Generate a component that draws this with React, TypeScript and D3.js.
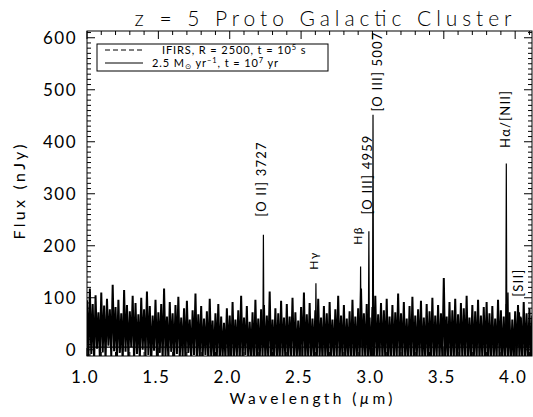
import React from "react";
import * as d3 from "d3";

const width = 533;
const height = 417;
const plot = { left: 87, right: 532, top: 31, bottom: 356 };

// noisy IFIRS spectrum, one sample every 0.01 um from 1.00 um
const noiseStart = 1.0;
const noiseStep = 0.01;
const noiseFlux = [
  95, -18, 118, -8, 88, -22, 105, 2, 72, -15, 110, -5, 85, -20, 98, 8, 78, -12, 125, -3,
  82, -16, 96, -6, 70, -24, 115, -4, 86, -14, 74, 5, 104, -20, 90, -8, 68, -18, 100, 0,
  78, -14, 112, -10, 84, -25, 66, -2, 96, -16, 72, -6, 88, -22, 118, -12, 64, -20, 92, -4,
  70, -20, 86, -8, 102, -16, 62, -12, 80, -24, 94, -6, 58, -18, 76, -10, 108, -22, 68, -14,
  84, -18, 60, -10, 74, -26, 98, -14, 56, -20, 70, -12, 88, -24, 64, -16, 52, -22, 80, -12,
  66, -24, 92, -18, 58, -12, 76, -26, 104, -20, 62, -10, 84, -22, 54, -16, 72, -28, 96, -18,
  60, -22, 78, -14, 86, -24, 66, -18, 112, -26, 58, -16, 80, -20, 70, -28, 94, -14, 62, -22,
  88, -20, 64, -12, 100, -24, 72, -16, 56, -22, 82, -14, 110, -26, 68, -18, 90, -20, 60, -16,
  76, -22, 98, -14, 62, -24, 84, -18, 70, -26, 92, -12, 58, -20, 78, -16, 104, -24, 66, -18,
  86, -22, 60, -14, 74, -26, 96, -20, 64, -18, 80, -24, 118, -16, 70, -22, 88, -26, 62, -20,
  82, -18, 104, -24, 68, -16, 90, -22, 76, -20, 98, -26, 64, -14, 86, -22, 72, -18, 108, -24,
  70, -16, 92, -22, 60, -20, 84, -24, 102, -18, 66, -22, 78, -16, 94, -26, 62, -20, 88, -22,
  74, -18, 100, -24, 66, -16, 86, -22, 70, -20, 138, -24, 64, -18, 92, -22, 76, -20, 98, -26,
  68, -18, 90, -22, 80, -20, 104, -24, 62, -16, 86, -22, 74, -20, 96, -24, 66, -18, 82, -22,
  92, -20, 70, -24, 84, -18, 60, -22, 96, -20, 76, -24, 64, -18, 88, -22, 72, -26, 58, -20,
  74, -22, 86, -18, 62, -24, 92, -20, 70, -22, 80, -18, 66,
];

// model: flat continuum plus emission lines
const continuum = 5;
const lineWave = [2.236, 2.604, 2.917, 2.975, 3.004, 3.938, 3.95, 4.03, 4.039];
const linePeak = [221, 128, 160, 228, 452, 358, 110, 72, 64];

const labelText = ["[O II] 3727", "Hγ", "Hβ", "[O III] 4959", "[O III] 5007", "Hα/[NII]", "[SII]"];
const labelWave = [2.223, 2.591, 2.896, 2.962, 3.036, 3.929, 4.02];
const labelFlux = [256, 154, 202, 260, 458, 388, 102];
const labelSize = [13, 12, 12, 13, 13, 13, 13];

const xTicks = [1.0, 1.5, 2.0, 2.5, 3.0, 3.5, 4.0];
const yTicks = [0, 100, 200, 300, 400, 500, 600];

const font = "Lato, 'DejaVu Sans', sans-serif";

export default function App() {
  const x = d3.scaleLinear().domain([1.0, 4.118]).range([plot.left, plot.right]);
  const y = d3.scaleLinear().domain([-12, 613]).range([plot.bottom, plot.top]);

  const line = d3
    .line<[number, number]>()
    .x((d) => x(d[0]))
    .y((d) => y(d[1]));

  const noisePts: [number, number][] = noiseFlux.map((f, i) => [noiseStart + i * noiseStep, f]);

  const modelPts: [number, number][] = [[1.0, continuum]];
  lineWave.forEach((w, i) => {
    modelPts.push([w - 0.004, continuum], [w, linePeak[i]], [w + 0.004, continuum]);
  });
  modelPts.push([4.118, continuum]);

  const xMinor = d3.range(10, 42).map((i) => i / 10);
  const yMinor = d3.range(-1, 62).map((i) => i * 10);

  return (
    <svg
      width={width}
      height={height}
      style={{ position: "absolute", left: 0, top: 0, background: "#fff" }}
      fontFamily={font}
      fontWeight={400}
    >
      <defs>
        <clipPath id="plotclip">
          <rect x={plot.left} y={plot.top} width={plot.right - plot.left} height={plot.bottom - plot.top} />
        </clipPath>
      </defs>

      <text x={323} y={26} textAnchor="middle" fontSize={21} fontWeight={300} textLength={377} lengthAdjust="spacing" fill="#000">
        z = 5 Proto Galactic Cluster
      </text>

      <g clipPath="url(#plotclip)">
        <path d={line(noisePts) ?? ""} fill="none" stroke="#000" strokeWidth={2} strokeLinejoin="miter" strokeMiterlimit={2} />
        <path d={line(modelPts) ?? ""} fill="none" stroke="#000" strokeWidth={1.2} />
      </g>

      {/* emission line labels */}
      {labelText.map((t, i) => (
        <text
          key={t}
          transform={`translate(${x(labelWave[i])},${y(labelFlux[i])}) rotate(-90)`}
          dy="0.35em"
          fontSize={labelSize[i]}
          letterSpacing={1.2}
          fill="#000"
        >
          {t}
        </text>
      ))}

      {/* frame */}
      <rect x={plot.left} y={plot.top} width={plot.right - plot.left} height={plot.bottom - plot.top} fill="none" stroke="#000" strokeWidth={1} />

      {/* x ticks, top and bottom */}
      {xMinor.map((t) => {
        const major = xTicks.some((m) => Math.abs(m - t) < 1e-6);
        const len = major ? 8 : 4;
        return (
          <g key={t} stroke="#000">
            <line x1={x(t)} x2={x(t)} y1={plot.top} y2={plot.top + len} />
            <line x1={x(t)} x2={x(t)} y1={plot.bottom} y2={plot.bottom - len} />
          </g>
        );
      })}
      {/* y ticks, left and right */}
      {yMinor.map((t) => {
        const major = t % 100 === 0;
        const len = major ? 8 : 4;
        return (
          <g key={t} stroke="#000">
            <line x1={plot.left} x2={plot.left + len} y1={y(t)} y2={y(t)} />
            <line x1={plot.right} x2={plot.right - len} y1={y(t)} y2={y(t)} />
          </g>
        );
      })}

      {xTicks.map((t) => (
        <text key={t} x={x(t) - 2} y={383} textAnchor="middle" fontSize={17} letterSpacing={1.5} fill="#000">
          {t.toFixed(1)}
        </text>
      ))}
      {yTicks.map((t) => (
        <text key={t} x={77} y={y(t)} dy="0.36em" textAnchor="end" fontSize={17} letterSpacing={1.5} fill="#000">
          {t}
        </text>
      ))}

      <text x={311} y={404} textAnchor="middle" fontSize={15.5} textLength={163} lengthAdjust="spacing" fill="#000">
        Wavelength (<tspan fontStyle="italic">µ</tspan>m)
      </text>
      <text transform="translate(19,192) rotate(-90)" dy="0.35em" textAnchor="middle" fontSize={16} textLength={95} lengthAdjust="spacing" fill="#000">
        Flux (nJy)
      </text>

      {/* legend */}
      <rect x={97} y={44} width={231} height={27} fill="#fff" stroke="#000" strokeWidth={1} />
      <line x1={105} x2={143} y1={50} y2={50} stroke="#000" strokeDasharray="5,3" />
      <line x1={105} x2={143} y1={63} y2={63} stroke="#000" />
      <text x={162} y={54} fontSize={11} letterSpacing={0.9} fill="#000">
        IFIRS, R = 2500, t = 10<tspan dy={-4} fontSize={7.5}>5</tspan>
        <tspan dy={4}> s</tspan>
      </text>
      <text x={152} y={67} fontSize={11} letterSpacing={0.9} fill="#000">
        2.5 M<tspan dy={2} fontSize={7.5}>⊙</tspan>
        <tspan dy={-2}> yr</tspan>
        <tspan dy={-4} fontSize={7.5}>−1</tspan>
        <tspan dy={4}>, t = 10</tspan>
        <tspan dy={-4} fontSize={7.5}>7</tspan>
        <tspan dy={4}> yr</tspan>
      </text>
    </svg>
  );
}
